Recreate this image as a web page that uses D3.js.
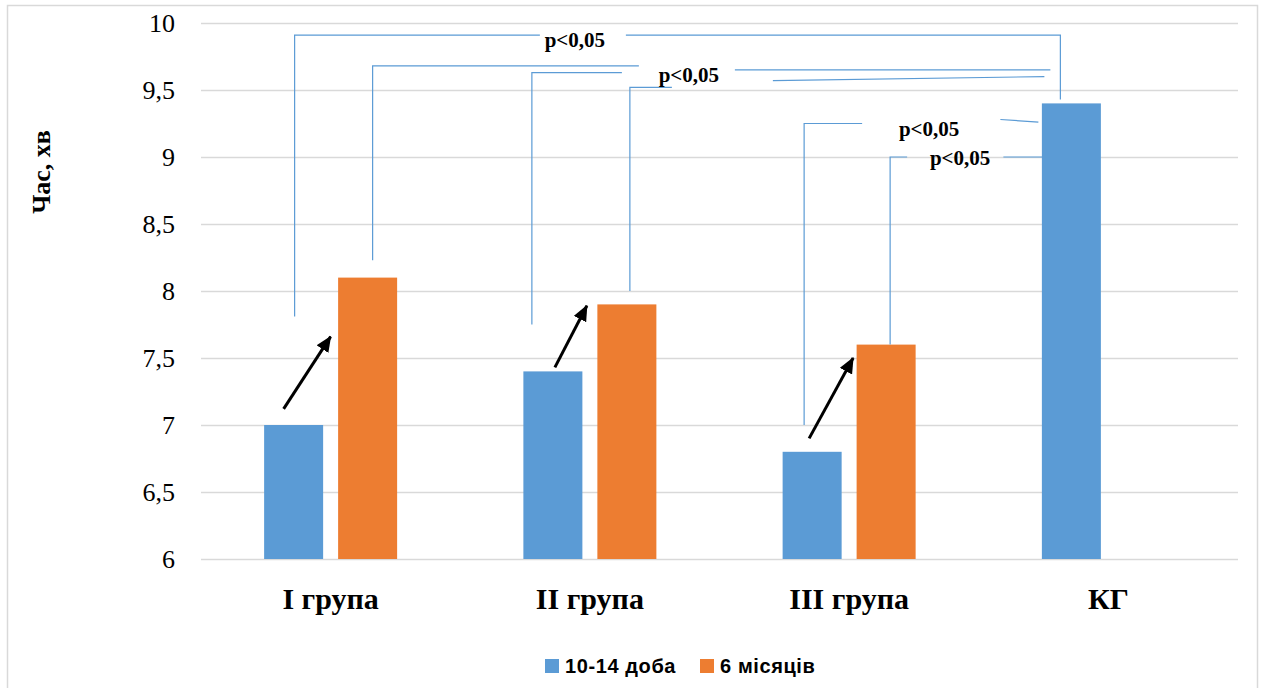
<!DOCTYPE html>
<html>
<head>
<meta charset="utf-8">
<script src="https://cdn.jsdelivr.net/npm/d3@7/dist/d3.min.js"></script>
<style>
  html, body { margin: 0; padding: 0; background: #fff; }
  svg { display: block; }
</style>
</head>
<body>
<svg id="chart" width="1263" height="688"></svg>
<script>
// ---- data ----
const categories = ["I група", "II група", "III група", "КГ"];
const seriesNames = ["10-14 доба", "6 місяців"];
const earlyValues = [7.0, 7.4, 6.8, 9.4];     // 10-14 доба
const lateValues  = [8.1, 7.9, 7.6, null];    // 6 місяців
const yTicks = [6, 6.5, 7, 7.5, 8, 8.5, 9, 9.5, 10];
const yTitle = "Час, хв";
const pLabel = "p<0,05";

// significance brackets: polylines of [category, pixel offset from category centre, value]
const bracketLines = [
  [["I група", -36, 7.81], ["I група", -36, 9.91], ["II група", -50, 9.91]],
  [["II група", 36, 9.91], ["КГ", -48, 9.91], ["КГ", -48, 9.43]],
  [["I група", 42, 8.23], ["I група", 42, 9.68], ["II група", 49, 9.68]],
  [["II група", 145, 9.65], ["КГ", -58, 9.65]],
  [["II група", -58, 7.75], ["II група", -58, 9.63], ["II група", 32, 9.63]],
  [["II група", 183, 9.57], ["КГ", -64, 9.60]],
  [["II група", 40, 8.0], ["II група", 40, 9.52], ["II група", 82, 9.52]],
  [["III група", -45, 7.0], ["III група", -45, 9.25], ["III група", 13, 9.25]],
  [["КГ", -108, 9.28], ["КГ", -70, 9.26]],
  [["III група", 41, 7.6], ["III група", 41, 9.0], ["III група", 58, 9.0]],
  [["КГ", -105, 9.0], ["КГ", -66, 9.0]]
];
const bracketLabels = [
  ["II група", -15, 9.82],
  ["II група", 99, 9.56],
  ["III група", 80, 9.16],
  ["III група", 111, 8.94]
];
// growth arrows: [category, dx, value] tail -> head
const growthArrows = [
  [["I група", -47, 7.12], ["I група", 0, 7.66]],
  [["II група", -35, 7.43], ["II група", -3, 7.89]],
  [["III група", -40, 6.90], ["III група", 4, 7.50]]
];

// ---- layout ----
const svg = d3.select("#chart");
const plot = { left: 201, right: 1238, top: 23, bottom: 559 };
const colors = ["#5B9BD5", "#ED7D31"];
const serif = "'Liberation Serif', 'Times New Roman', serif";
const sans = "'Liberation Sans', Arial, sans-serif";

// outer frame
svg.append("rect")
  .attr("x", 7.5).attr("y", 5.5)
  .attr("width", 1250).attr("height", 690)
  .attr("fill", "#fff").attr("stroke", "#d9d9d9").attr("stroke-width", 1.5);

const x = d3.scaleBand().domain(categories).range([plot.left, plot.right]).padding(0);
const y = d3.scaleLinear().domain([6, 10]).range([plot.bottom, plot.top]);
const barW = x.bandwidth() * 0.2276;
const sub = d3.scalePoint().domain(seriesNames).range([-barW * 0.627, barW * 0.627]);
const cx = c => x(c) + x.bandwidth() / 2;

// gridlines and tick labels
const yAxis = d3.axisLeft(y).tickValues(yTicks)
  .tickSize(-(plot.right - plot.left))
  .tickFormat(d => String(d).replace(".", ","))
  .tickPadding(26);
const gy = svg.append("g").attr("transform", `translate(${plot.left},0)`).call(yAxis);
gy.select(".domain").remove();
gy.selectAll(".tick line").attr("stroke", "#d9d9d9").attr("stroke-width", 1.5);
gy.selectAll(".tick text")
  .attr("fill", "#000").attr("font-family", serif).attr("font-size", 26);

// y axis title
svg.append("text")
  .attr("transform", `translate(50,172) rotate(-90)`)
  .attr("text-anchor", "middle")
  .attr("font-family", serif).attr("font-weight", "bold").attr("font-size", 26)
  .text(yTitle);

// bars
const rows = categories.map((c, i) => ({ c, vals: [earlyValues[i], lateValues[i]] }));
const barData = [];
rows.forEach(r => r.vals.forEach((v, j) => { if (v != null) barData.push({ c: r.c, s: seriesNames[j], v, j }); }));
svg.append("g").selectAll("rect").data(barData).join("rect")
  .attr("x", d => cx(d.c) + sub(d.s) - barW / 2)
  .attr("y", d => y(d.v))
  .attr("width", barW)
  .attr("height", d => y(6) - y(d.v))
  .attr("fill", d => colors[d.j]);

// category labels
svg.append("g").selectAll("text").data(categories).join("text")
  .attr("x", d => cx(d)).attr("y", 609)
  .attr("text-anchor", "middle")
  .attr("font-family", serif).attr("font-weight", "bold").attr("font-size", 30)
  .text(d => d);

// significance brackets
const pt = p => [cx(p[0]) + p[1], y(p[2])];
const line = d3.line();
svg.append("g").selectAll("path").data(bracketLines).join("path")
  .attr("d", d => line(d.map(pt)))
  .attr("fill", "none").attr("stroke", "#5B9BD5").attr("stroke-width", 1.2);
svg.append("g").selectAll("text").data(bracketLabels).join("text")
  .attr("x", d => pt(d)[0]).attr("y", d => pt(d)[1])
  .attr("text-anchor", "middle")
  .attr("font-family", serif).attr("font-weight", "bold").attr("font-size", 21)
  .text(pLabel);

// growth arrows
svg.append("defs").append("marker")
  .attr("id", "head").attr("viewBox", "0 0 16 14")
  .attr("refX", 15).attr("refY", 7)
  .attr("markerWidth", 16).attr("markerHeight", 14)
  .attr("markerUnits", "userSpaceOnUse")
  .attr("orient", "auto")
  .append("path").attr("d", "M0,0 L16,7 L0,14 Z").attr("fill", "#000");
svg.append("g").selectAll("line").data(growthArrows).join("line")
  .attr("x1", d => pt(d[0])[0]).attr("y1", d => pt(d[0])[1])
  .attr("x2", d => pt(d[1])[0]).attr("y2", d => pt(d[1])[1])
  .attr("stroke", "#000").attr("stroke-width", 3)
  .attr("marker-end", "url(#head)");

// legend
const legendX = [545, 700];
const lg = svg.append("g").selectAll("g").data(seriesNames).join("g")
  .attr("transform", (d, i) => `translate(${legendX[i]},659)`);
lg.append("rect").attr("width", 14).attr("height", 14).attr("fill", (d, i) => colors[i]);
lg.append("text").attr("x", 20).attr("y", 14)
  .attr("font-family", sans).attr("font-weight", "bold").attr("font-size", 20)
  .attr("letter-spacing", 0.6)
  .text(d => d);
</script>
</body>
</html>
